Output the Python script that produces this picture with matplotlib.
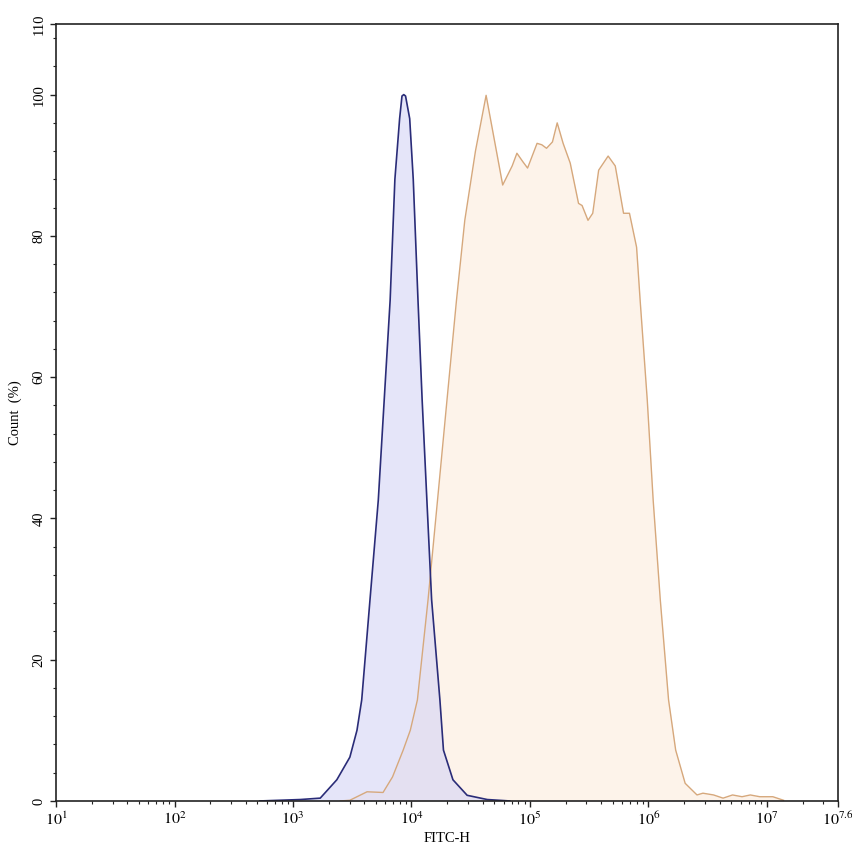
import numpy as np
import matplotlib
matplotlib.use("Agg")
import matplotlib.pyplot as plt
from matplotlib.ticker import FixedLocator, LogLocator, NullFormatter, MultipleLocator

plt.rcParams['font.family'] = ['Liberation Serif', 'DejaVu Serif']
plt.rcParams['mathtext.fontset'] = 'stix'

# log10(FITC-H) positions and count (%)
blue_log = [2.72, 3.06, 3.23, 3.37, 3.48, 3.54, 3.58, 3.65, 3.72, 3.77, 3.82,
            3.86, 3.90, 3.92, 3.935, 3.95, 3.985, 4.015, 4.055, 4.09, 4.13,
            4.17, 4.24, 4.27, 4.35, 4.47, 4.64, 4.83]
blue_pct = [0.0, 0.2, 0.4, 3.0, 6.2, 10.0, 14.3, 28.5, 42.6, 56.8, 70.9,
            88.0, 96.6, 99.8, 100.0, 99.8, 96.6, 88.0, 70.9, 56.8, 42.6,
            28.5, 14.3, 7.2, 3.0, 0.8, 0.2, 0.0]

orange_log = [3.40, 3.48, 3.625, 3.76, 3.84, 3.93, 3.99, 4.05, 4.14, 4.22, 4.30,
              4.38, 4.45, 4.54, 4.63, 4.77, 4.85, 4.89, 4.94, 4.98, 5.06, 5.10,
              5.14, 5.19, 5.23, 5.28, 5.34, 5.41, 5.44, 5.49, 5.53, 5.58, 5.66,
              5.72, 5.79, 5.84, 5.90, 5.93, 5.99, 6.04, 6.10, 6.17, 6.23, 6.31,
              6.41, 6.46, 6.55, 6.63, 6.71, 6.79, 6.86, 6.94, 7.05, 7.14]
orange_pct = [0.0, 0.1, 1.3, 1.2, 3.4, 7.2, 10.0, 14.3, 28.5, 42.6, 56.8,
              70.9, 82.2, 92.0, 99.9, 87.2, 89.9, 91.7, 90.5, 89.6, 93.1, 92.9,
              92.4, 93.3, 96.0, 93.1, 90.3, 84.6, 84.3, 82.2, 83.2, 89.3, 91.3,
              89.9, 83.2, 83.2, 78.4, 70.9, 56.8, 42.6, 28.5, 14.3, 7.2, 2.5,
              0.85, 1.1, 0.85, 0.4, 0.85, 0.6, 0.85, 0.6, 0.6, 0.1]

xtick_exp = [1, 2, 3, 4, 5, 6, 7, 7.6]
xtick_labels = [r"$10^{1}$", r"$10^{2}$", r"$10^{3}$", r"$10^{4}$", r"$10^{5}$",
                r"$10^{6}$", r"$10^{7}$", r"$10^{7.6}$"]
yticks = [0, 20, 40, 60, 80, 100, 110]

fig = plt.figure(figsize=(8.53, 8.56), dpi=100)
ax = fig.add_axes([0.0657, 0.0643, 0.9167, 0.9077])

bx = 10 ** np.array(blue_log)
ox = 10 ** np.array(orange_log)

ax.fill_between(ox, orange_pct, 0, color="#fdf3ea", lw=0)
ax.plot(ox, orange_pct, color="#d6a87c", lw=1.0)
ax.fill_between(bx, blue_pct, 0, color="#d4d4f6", alpha=0.6, lw=0)
ax.plot(bx, blue_pct, color="#2a2c78", lw=1.2)

ax.set_xscale("log")
ax.set_xlim(10 ** 1, 10 ** 7.6)
ax.set_ylim(0, 110)

ax.xaxis.set_major_locator(FixedLocator([10 ** e for e in xtick_exp]))
ax.set_xticklabels(xtick_labels)
ax.xaxis.set_minor_locator(LogLocator(base=10, subs=np.arange(2, 10), numticks=20))
ax.xaxis.set_minor_formatter(NullFormatter())

ax.set_yticks(yticks)
ax.set_yticklabels([str(v) for v in yticks], rotation=90, va="center")
ax.yaxis.set_minor_locator(MultipleLocator(4))

ax.tick_params(which="major", length=4, width=1, color="#222222")
ax.tick_params(axis="x", which="major", labelsize=11.5)
ax.tick_params(axis="y", which="major", labelsize=10.5)
ax.tick_params(which="minor", length=2, width=0.8, color="#222222")
for s in ax.spines.values():
    s.set_linewidth(1.2)
    s.set_color("#222222")

ax.set_xlabel("FITC-H", fontsize=10.5, labelpad=2)
ax.set_ylabel("Count  (%)", fontsize=10.5, labelpad=8)

fig.savefig("out.png", dpi=100)
